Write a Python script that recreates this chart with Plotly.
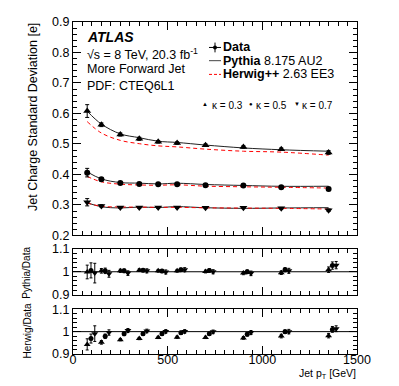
import plotly.graph_objects as go

# bin centres of jet pT [GeV]
pt = [75, 150, 250, 350, 450, 550, 700, 900, 1100, 1350]

# data: jet charge standard deviation for each kappa
data_k03 = [0.608, 0.563, 0.531, 0.517, 0.507, 0.503, 0.496, 0.490, 0.483, 0.472]
data_k05 = [0.406, 0.384, 0.372, 0.369, 0.368, 0.368, 0.365, 0.364, 0.358, 0.352]
data_k07 = [0.309, 0.297, 0.292, 0.292, 0.292, 0.292, 0.291, 0.291, 0.289, 0.283]
err_k03 = [0.021, 0.006, 0.005, 0.005, 0.004, 0.004, 0.004, 0.004, 0.004, 0.006]
err_k05 = [0.014, 0.005, 0.004, 0.004, 0.003, 0.003, 0.003, 0.003, 0.003, 0.005]
err_k07 = [0.012, 0.004, 0.003, 0.003, 0.003, 0.003, 0.003, 0.003, 0.003, 0.004]

# MC / data ratios
pythia_k03 = [0.999, 1.004, 1.004, 1.007, 1.004, 1.004, 1.001, 0.994, 0.996, 1.009]
pythia_k05 = [1.006, 1.004, 1.004, 1.007, 1.003, 1.009, 1.006, 1.000, 1.009, 1.027]
pythia_k07 = [0.994, 0.991, 0.994, 1.004, 0.999, 1.009, 1.000, 0.993, 1.004, 1.029]
pythia_err_k03 = [0.030, 0.010, 0.007, 0.006, 0.006, 0.006, 0.006, 0.007, 0.008, 0.012]
pythia_err_k05 = [0.033, 0.012, 0.008, 0.007, 0.007, 0.007, 0.007, 0.008, 0.009, 0.016]
pythia_err_k07 = [0.043, 0.015, 0.010, 0.009, 0.009, 0.009, 0.009, 0.010, 0.011, 0.016]

herwig_k03 = [0.943, 0.952, 0.964, 0.969, 0.974, 0.975, 0.974, 0.972, 0.980, 0.982]
herwig_k05 = [0.969, 0.979, 0.990, 0.991, 0.991, 0.995, 0.991, 0.988, 1.000, 1.010]
herwig_k07 = [0.991, 0.996, 1.005, 1.003, 1.001, 1.001, 0.999, 0.996, 1.000, 1.013]
herwig_err_k03 = [0.025, 0.008, 0.005, 0.005, 0.005, 0.005, 0.005, 0.006, 0.008, 0.010]
herwig_err_k05 = [0.020, 0.010, 0.008, 0.007, 0.007, 0.007, 0.007, 0.008, 0.008, 0.013]
herwig_err_k07 = [0.035, 0.012, 0.009, 0.008, 0.008, 0.008, 0.008, 0.009, 0.010, 0.013]

W, H = 399, 386
# the page body adds an 8px offset, so margins are shifted to compensate
L, R, T, B = 65, 50, 7, 40
FONT = "Liberation Sans, Arial, sans-serif"


def px(x):
    # page pixel -> paper fraction
    return (x - 73) / 284


def py(y):
    return (354 - y) / 339


series = [
    (data_k03, err_k03, pythia_k03, pythia_err_k03, herwig_k03, herwig_err_k03, "triangle-up", 7, 0),
    (data_k05, err_k05, pythia_k05, pythia_err_k05, herwig_k05, herwig_err_k05, "circle", 6, 20),
    (data_k07, err_k07, pythia_k07, pythia_err_k07, herwig_k07, herwig_err_k07, "triangle-down", 7, 40),
]

fig = go.Figure()

for data, err, pr, pe, hr, he, sym, size, shift in series:
    pythia = [d * r for d, r in zip(data, pr)]
    herwig = [d * r for d, r in zip(data, hr)]
    fig.add_trace(go.Scatter(x=pt, y=pythia, mode="lines", line=dict(color="#222", width=1, shape="spline"),
                             xaxis="x", yaxis="y"))
    fig.add_trace(go.Scatter(x=pt, y=herwig, mode="lines",
                             line=dict(color="#ff0000", width=1, dash="4px,3px", shape="spline"),
                             xaxis="x", yaxis="y"))
    fig.add_trace(go.Scatter(x=pt, y=data, mode="markers", marker=dict(symbol=sym, size=size, color="black"),
                             error_y=dict(type="data", array=err, color="black", thickness=1, width=2),
                             xaxis="x", yaxis="y"))
    xs = [p + shift for p in pt]
    fig.add_trace(go.Scatter(x=xs, y=pr, mode="markers", marker=dict(symbol=sym, size=size - 1, color="black"),
                             error_y=dict(type="data", array=pe, color="black", thickness=1, width=1.5),
                             xaxis="x2", yaxis="y2"))
    fig.add_trace(go.Scatter(x=xs, y=hr, mode="markers", marker=dict(symbol=sym, size=size - 1, color="black"),
                             error_y=dict(type="data", array=he, color="black", thickness=1, width=1.5),
                             xaxis="x3", yaxis="y3"))

axis_common = dict(showline=True, linecolor="black", linewidth=1, mirror="ticks", ticks="inside",
                   tickcolor="black", ticklen=8, showgrid=False, zeroline=False,
                   tickfont=dict(family=FONT, size=12.5, color="black"))
xcommon = dict(axis_common, range=[0, 1500], dtick=500,
               minor=dict(ticks="inside", dtick=50, ticklen=4, tickcolor="black"))
ratio_minor = dict(ticks="inside", dtick=0.02, ticklen=4, tickcolor="black")

fig.update_layout(
    width=W, height=H,
    margin=dict(l=L, r=R, t=T, b=B),
    paper_bgcolor="white", plot_bgcolor="white",
    showlegend=False,
    xaxis=dict(xcommon, anchor="y", showticklabels=False),
    xaxis2=dict(xcommon, anchor="y2", matches="x", showticklabels=False),
    xaxis3=dict(xcommon, anchor="y3", matches="x", ticklabelstandoff=-6),
    yaxis=dict(axis_common, domain=[0.357, 1.0], range=[0.2, 0.9], dtick=0.1, tickformat=".1f",
               minor=dict(ticks="inside", dtick=0.02, ticklen=4, tickcolor="black")),
    yaxis2=dict(axis_common, domain=[0.179, 0.3165], range=[0.9, 1.1], dtick=0.1, minor=ratio_minor),
    yaxis3=dict(axis_common, domain=[0.0, 0.1348], range=[0.9, 1.1], dtick=0.1, minor=ratio_minor),
)

# unity lines in ratio panels
for yref in ["y2", "y3"]:
    fig.add_shape(type="line", xref="x", yref=yref, x0=0, x1=1500, y0=1, y1=1,
                  line=dict(color="black", width=1))

# legend entries drawn by hand
fig.add_shape(type="line", xref="paper", yref="paper", x0=px(209), x1=px(221), y0=py(41), y1=py(41),
              line=dict(color="black", width=1))
fig.add_shape(type="line", xref="paper", yref="paper", x0=px(215), x1=px(215), y0=py(36), y1=py(46),
              line=dict(color="black", width=1))
fig.add_shape(type="circle", xref="paper", yref="paper", x0=px(213), x1=px(217), y0=py(43), y1=py(39),
              fillcolor="black", line=dict(color="black", width=0))
fig.add_shape(type="line", xref="paper", yref="paper", x0=px(209), x1=px(221), y0=py(54.5), y1=py(54.5),
              line=dict(color="#444", width=1))
fig.add_shape(type="line", xref="paper", yref="paper", x0=px(209), x1=px(221), y0=py(68.5), y1=py(68.5),
              line=dict(color="#ff0000", width=1, dash="3px,2px"))


def note(x, y, text, size=12.5, **kw):
    fig.add_annotation(x=px(x), y=py(y), xref="paper", yref="paper", text=text, showarrow=False,
                       xanchor=kw.pop("xanchor", "left"), yanchor="middle",
                       font=dict(family=FONT, size=size, color="black"), **kw)


note(85, 30, "<b><i>ATLAS</i></b>", size=14)
note(85, 47.5, "√s = 8 TeV, 20.3 fb<sup>-1</sup>")
note(85, 63.5, "More Forward Jet")
note(85, 80, "PDF: CTEQ6L1")
note(221, 41, "<b>Data</b>")
note(221, 54.5, "<b>Pythia</b> 8.175 AU2")
note(221, 68.5, "<b>Herwig++</b> 2.63 EE3")

note(205, 99, "▲", size=6, xanchor="center")
note(210, 100.5, "κ = 0.3", size=10)
note(251, 99, "●", size=6, xanchor="center")
note(254, 100.5, "κ = 0.5", size=10)
note(297, 99, "▼", size=6, xanchor="center")
note(300, 100.5, "κ = 0.7", size=10)

note(33, 112, "Jet Charge Standard Deviation [e]", xanchor="center", textangle=-90)
note(27, 271, "Pythia/Data", size=10, xanchor="center", textangle=-90)
note(27, 331, "Herwig/Data", size=10, xanchor="center", textangle=-90)
note(358, 374, "Jet p<sub>T</sub> [GeV]", size=10.5, xanchor="right")

fig.write_html("out.html")
